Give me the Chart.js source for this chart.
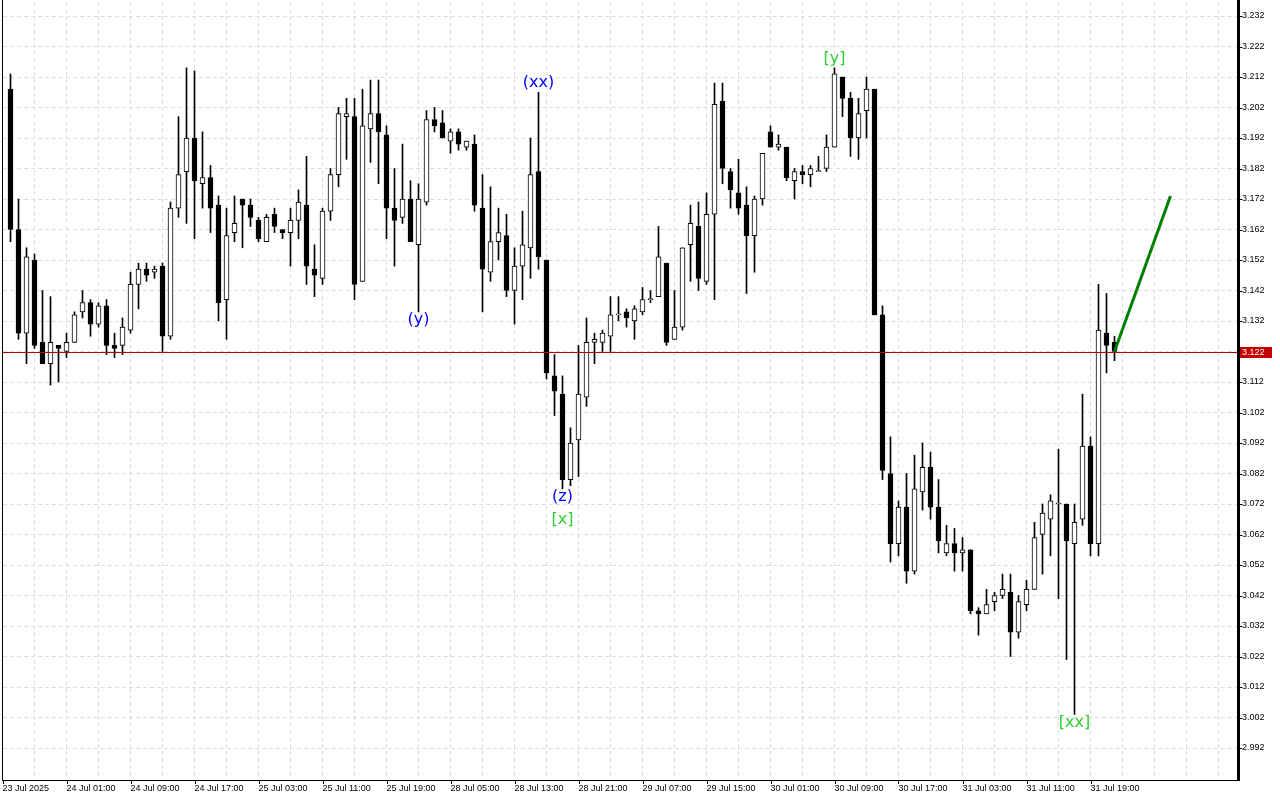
<!DOCTYPE html>
<html>
<head>
<meta charset="utf-8">
<script src="https://cdn.jsdelivr.net/npm/chart.js@4.4.1/dist/chart.umd.min.js"></script>
<style>
  html, body { margin: 0; padding: 0; background: #fff; }
</style>
</head>
<body>
<canvas id="chart" width="1280" height="800"></canvas>
<script>
// hourly bars, bar 1 is the first full candle on the left
const opens = [
  3.208,3.162,3.128,3.152,3.125,3.118,3.124,3.122,3.125,3.135,
  3.138,3.131,3.137,3.124,3.124,3.129,3.144,3.149,3.148,3.150,
  3.127,3.169,3.181,3.192,3.177,3.179,3.170,3.139,3.161,3.172,
  3.170,3.165,3.158,3.167,3.162,3.161,3.165,3.170,3.149,3.146,
  3.168,3.180,3.199,3.199,3.145,3.195,3.200,3.193,3.169,3.166,
  3.172,3.157,3.171,3.198,3.197,3.191,3.194,3.189,3.190,3.169,
  3.148,3.158,3.160,3.142,3.150,3.156,3.181,3.152,3.114,3.108,
  3.080,3.093,3.107,3.125,3.125,3.127,3.134,3.135,3.132,3.135,
  3.139,3.140,3.151,3.126,3.130,3.157,3.163,3.145,3.167,3.204,
  3.181,3.174,3.170,3.160,3.172,3.194,3.189,3.189,3.178,3.181,
  3.180,3.181,3.182,3.189,3.212,3.205,3.192,3.201,3.208,3.134,
  3.082,3.059,3.071,3.050,3.076,3.084,3.071,3.056,3.059,3.056,
  3.057,3.037,3.036,3.040,3.042,3.043,3.030,3.039,3.044,3.062,
  3.067,3.072,3.072,3.059,3.067,3.091,3.059,3.128,3.125
];
const highs = [
  3.213,3.172,3.156,3.154,3.142,3.140,3.124,3.128,3.135,3.142,
  3.139,3.138,3.139,3.128,3.133,3.148,3.151,3.151,3.150,3.151,
  3.171,3.199,3.215,3.214,3.194,3.183,3.173,3.169,3.173,3.172,
  3.172,3.166,3.167,3.169,3.162,3.169,3.175,3.186,3.157,3.169,
  3.182,3.202,3.205,3.205,3.208,3.211,3.211,3.196,3.182,3.190,
  3.178,3.177,3.201,3.202,3.201,3.195,3.195,3.191,3.193,3.180,
  3.176,3.169,3.167,3.156,3.168,3.192,3.207,3.152,3.121,3.114,
  3.097,3.124,3.133,3.128,3.129,3.140,3.140,3.136,3.137,3.143,
  3.142,3.163,3.151,3.142,3.156,3.170,3.171,3.174,3.210,3.210,
  3.182,3.185,3.176,3.173,3.187,3.196,3.193,3.189,3.182,3.183,
  3.183,3.186,3.193,3.215,3.212,3.207,3.205,3.212,3.208,3.137,
  3.094,3.073,3.082,3.088,3.092,3.089,3.080,3.065,3.064,3.061,
  3.057,3.038,3.044,3.043,3.049,3.049,3.042,3.047,3.066,3.072,
  3.075,3.090,3.072,3.072,3.108,3.094,3.144,3.141,3.127
];
const lows = [
  3.158,3.126,3.118,3.123,3.118,3.111,3.112,3.120,3.125,3.133,
  3.127,3.130,3.121,3.120,3.121,3.128,3.136,3.145,3.146,3.122,
  3.126,3.166,3.164,3.159,3.169,3.161,3.132,3.126,3.158,3.156,
  3.163,3.158,3.158,3.161,3.159,3.150,3.159,3.144,3.140,3.144,
  3.165,3.176,3.185,3.139,3.145,3.184,3.177,3.159,3.150,3.164,
  3.158,3.135,3.170,3.194,3.192,3.187,3.188,3.188,3.168,3.135,
  3.145,3.152,3.140,3.131,3.139,3.146,3.149,3.113,3.101,3.077,
  3.078,3.081,3.104,3.118,3.122,3.122,3.132,3.130,3.126,3.134,
  3.138,3.140,3.124,3.126,3.129,3.145,3.142,3.144,3.139,3.177,
  3.169,3.167,3.141,3.148,3.170,3.189,3.188,3.178,3.172,3.177,
  3.176,3.181,3.181,3.189,3.199,3.186,3.185,3.192,3.134,3.080,
  3.053,3.055,3.046,3.049,3.070,3.067,3.056,3.055,3.050,3.050,
  3.036,3.029,3.036,3.037,3.041,3.022,3.028,3.037,3.044,3.049,
  3.055,3.041,3.021,3.003,3.065,3.055,3.055,3.115,3.119
];
const closes = [
  3.162,3.128,3.153,3.124,3.118,3.125,3.123,3.125,3.134,3.138,
  3.131,3.137,3.124,3.123,3.130,3.144,3.149,3.147,3.149,3.127,
  3.169,3.180,3.192,3.178,3.179,3.169,3.138,3.160,3.164,3.170,
  3.166,3.159,3.166,3.163,3.161,3.165,3.171,3.150,3.147,3.168,
  3.180,3.200,3.200,3.144,3.196,3.200,3.194,3.169,3.165,3.172,
  3.158,3.172,3.198,3.196,3.192,3.194,3.190,3.191,3.170,3.149,
  3.158,3.161,3.142,3.150,3.157,3.180,3.153,3.115,3.109,3.080,
  3.092,3.108,3.125,3.126,3.128,3.134,3.134,3.133,3.136,3.139,
  3.139,3.153,3.125,3.130,3.156,3.164,3.146,3.167,3.203,3.182,
  3.175,3.169,3.160,3.172,3.187,3.189,3.190,3.179,3.181,3.180,
  3.182,3.181,3.189,3.213,3.205,3.192,3.200,3.208,3.134,3.083,
  3.059,3.071,3.050,3.077,3.084,3.071,3.060,3.059,3.056,3.057,
  3.037,3.036,3.039,3.042,3.044,3.030,3.040,3.044,3.061,3.069,
  3.073,3.072,3.060,3.066,3.091,3.059,3.129,3.124,3.122
];

// one time label every 8 bars, starting at bar 0
const timeLabels = [
  "23 Jul 2025", "24 Jul 01:00", "24 Jul 09:00", "24 Jul 17:00", "25 Jul 03:00",
  "25 Jul 11:00", "25 Jul 19:00", "28 Jul 05:00", "28 Jul 13:00", "28 Jul 21:00",
  "29 Jul 07:00", "29 Jul 15:00", "30 Jul 01:00", "30 Jul 09:00", "30 Jul 17:00",
  "31 Jul 03:00", "31 Jul 11:00", "31 Jul 19:00"
];
const priceTicks = [
  2.992, 3.002, 3.012, 3.022, 3.032, 3.042, 3.052, 3.062, 3.072, 3.082, 3.092,
  3.102, 3.112, 3.122, 3.132, 3.142, 3.152, 3.162, 3.172, 3.182, 3.192, 3.202,
  3.212, 3.222, 3.232
];

// wave marks: bar number, text, and whether they sit on the high or the low
const waveBars = [67, 52, 70, 70, 104, 134];
const waveTexts = ["(xx)", "(y)", "(z)", "[x]", "[y]", "[xx]"];
const waveAt = ["high", "low", "low", "low", "high", "low"];

// projection arrow from the last close
const projBars = [139, 146];
const projPrices = [3.122, 3.173];

const bars = opens.map((_, i) => i + 1);
const lastClose = closes[closes.length - 1];

const wickData = bars.map((b, i) => ({ x: b, y: [lows[i], highs[i]] }));
const bodyData = bars.map((b, i) => ({ x: b, y: [opens[i], closes[i]] }));
const bodyFill = bars.map((b, i) => closes[i] >= opens[i] ? "#ffffff" : "#000000");

const FONT = "'Liberation Sans', Arial, sans-serif";

function noPadding(scale) {
  scale.paddingLeft = 0;
  scale.paddingRight = 0;
  scale.paddingTop = 0;
  scale.paddingBottom = 0;
}

const overlay = {
  id: "overlay",
  afterDatasetsDraw(chart) {
    const { ctx, chartArea, scales } = chart;
    const xs = scales.x, ys = scales.y;

    // current price line
    const py = Math.round(ys.getPixelForValue(lastClose)) + 0.5;
    ctx.save();
    ctx.strokeStyle = "#b40000";
    ctx.lineWidth = 1;
    ctx.beginPath();
    ctx.moveTo(chartArea.left, py);
    ctx.lineTo(chartArea.right, py);
    ctx.stroke();

    // wave labels
    ctx.font = "16px 'DejaVu Sans', sans-serif";
    ctx.textAlign = "center";
    ctx.textBaseline = "middle";
    const stackCount = {};
    waveBars.forEach((b, i) => {
      const t = waveTexts[i];
      const i0 = b - 1;
      const x = xs.getPixelForValue(b);
      const key = b + waveAt[i];
      const n = stackCount[key] || 0;
      stackCount[key] = n + 1;
      let y;
      if (waveAt[i] === "high") {
        y = ys.getPixelForValue(highs[i0]) - 9 - n * 23;
      } else {
        y = ys.getPixelForValue(lows[i0]) + 8 + n * 23;
      }
      ctx.fillStyle = t.charAt(0) === "(" ? "#0000ff" : "#32cd32";
      ctx.fillText(t, x, y);
    });
    ctx.restore();
  },
  afterDraw(chart) {
    const { ctx, chartArea, scales } = chart;
    const ys = scales.y, xs = scales.x;
    ctx.save();
    ctx.fillStyle = "#000";
    // frame
    ctx.fillRect(chartArea.left - 1, 0, 1, chartArea.bottom + 1);
    ctx.fillRect(chartArea.left - 1, chartArea.bottom, chartArea.right - chartArea.left + 1, 1);
    ctx.fillRect(chartArea.right, 0, 3, chartArea.bottom + 1);
    // price ticks on the right
    priceTicks.forEach(p => {
      const y = Math.round(ys.getPixelForValue(p));
      ctx.fillRect(chartArea.right + 3, y, 2, 1);
    });
    // time ticks at the bottom
    timeLabels.forEach((_, k) => {
      const x = Math.round(xs.getPixelForValue(k * 8));
      if (x >= chartArea.left) ctx.fillRect(x, chartArea.bottom + 1, 1, 3);
    });
    // price box
    const py = Math.round(ys.getPixelForValue(lastClose));
    ctx.fillStyle = "#c40000";
    ctx.fillRect(chartArea.right + 3, py - 5, 32, 11);
    ctx.fillStyle = "#ffffff";
    ctx.font = "9px " + FONT;
    ctx.textAlign = "left";
    ctx.textBaseline = "middle";
    ctx.fillText(lastClose.toFixed(3), chartArea.right + 5, py + 0.5);
    ctx.restore();
  }
};

new Chart(document.getElementById("chart").getContext("2d"), {
  data: {
    datasets: [
      {
        type: "line",
        data: projBars.map((b, i) => ({ x: b, y: projPrices[i] })),
        borderColor: "#008000",
        borderWidth: 3,
        pointRadius: 0,
        order: -1
      },
      {
        type: "bar",
        data: bodyData,
        backgroundColor: bodyFill,
        borderColor: "#000000",
        borderWidth: 1,
        borderSkipped: false,
        barThickness: 5,
        minBarLength: 1,
        grouped: false,
        order: 0
      },
      {
        type: "bar",
        data: wickData,
        backgroundColor: "#000000",
        borderWidth: 0,
        barThickness: 1,
        grouped: false,
        order: 1
      }
    ]
  },
  options: {
    responsive: false,
    animation: false,
    devicePixelRatio: 1,
    layout: { padding: { left: 3, top: 2, right: 0, bottom: 0 } },
    plugins: { legend: { display: false }, tooltip: { enabled: false } },
    scales: {
      x: {
        type: "linear",
        offset: false,
        min: 0.0625,
        max: 154.3125,
        afterBuildTicks(scale) {
          const t = [];
          for (let v = 0; v <= 152; v += 4) t.push({ value: v });
          scale.ticks = t;
        },
        afterFit(scale) { scale.height = 20; noPadding(scale); },
        grid: { color: "#dedede", lineWidth: 1, drawTicks: false, offset: false },
        border: { display: false, dash: [4, 3] },
        ticks: {
          autoSkip: false,
          maxRotation: 0,
          align: "start",
          padding: 3,
          color: "#000",
          font: { family: FONT, size: 9 },
          callback(v) {
            return v % 8 === 0 ? (timeLabels[v / 8] || "") : "";
          }
        }
      },
      y: {
        type: "linear",
        position: "right",
        min: 3.232 + 14 / 3050 - 778 / 3050,
        max: 3.232 + 14 / 3050,
        afterBuildTicks(scale) {
          scale.ticks = priceTicks.map(v => ({ value: v }));
        },
        afterFit(scale) { scale.width = 43; noPadding(scale); },
        grid: { color: "#dedede", lineWidth: 1, drawTicks: false },
        border: { display: false, dash: [4, 3] },
        ticks: {
          autoSkip: false,
          padding: 5,
          color: "#000",
          font: { family: FONT, size: 9 },
          callback(v) { return Number(v).toFixed(3); }
        }
      }
    }
  },
  plugins: [overlay]
});
</script>
</body>
</html>
